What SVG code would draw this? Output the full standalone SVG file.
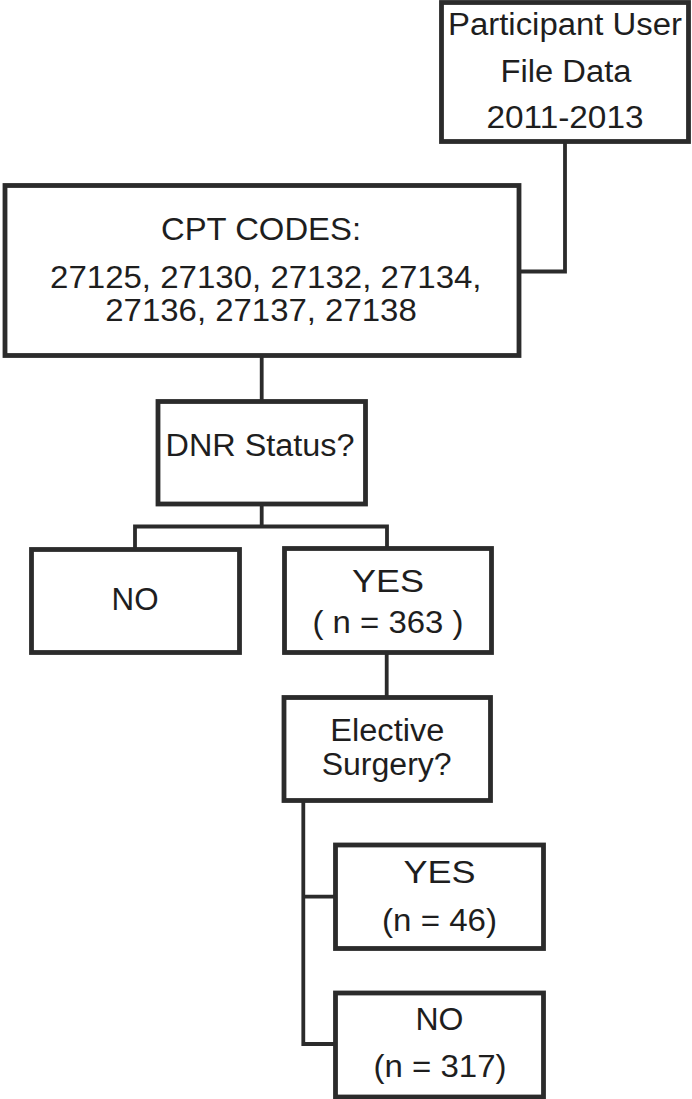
<svg xmlns="http://www.w3.org/2000/svg" width="692" height="1099" viewBox="0 0 692 1099">
<style>
.box{fill:#fff;stroke:#2b2b2b;stroke-width:4.8}
.con{fill:none;stroke:#2b2b2b;stroke-width:3.8}
text{font-family:"Liberation Sans",Arial,sans-serif;font-size:31px;fill:#1e1e1e;text-anchor:middle}
</style>
<rect width="692" height="1099" fill="#fff"/>
<g id="connectors">
<path class="con" d="M565,143 V271.5 H519"/>
<path class="con" d="M261.7,355 V401"/>
<path class="con" d="M261.7,504 V526.5 M135,549 V526.5 H387 V548"/>
<path class="con" d="M386.7,652 V697"/>
<path class="con" d="M303.3,800 V1044 H335 M303.3,896.7 H335"/>
</g>
<g id="participant">
<rect class="box" x="441.5" y="2.5" width="247" height="139"/>
<text x="565" y="35" textLength="234" lengthAdjust="spacingAndGlyphs">Participant User</text>
<text x="566" y="81.7" textLength="131" lengthAdjust="spacingAndGlyphs">File Data</text>
<text x="565" y="128.3" textLength="157" lengthAdjust="spacingAndGlyphs">2011-2013</text>
</g>
<g id="cpt">
<rect class="box" x="5" y="185.5" width="514" height="170"/>
<text x="261" y="240" textLength="200" lengthAdjust="spacingAndGlyphs">CPT CODES:</text>
<text x="265.8" y="288.3" textLength="431.5" lengthAdjust="spacingAndGlyphs">27125, 27130, 27132, 27134,</text>
<text x="261" y="320.7" textLength="311.5" lengthAdjust="spacingAndGlyphs">27136, 27137, 27138</text>
</g>
<g id="dnr">
<rect class="box" x="158" y="401.5" width="207.5" height="102.5"/>
<text x="260" y="456" textLength="189" lengthAdjust="spacingAndGlyphs">DNR Status?</text>
</g>
<g id="no1">
<rect class="box" x="31.5" y="549.5" width="208" height="103"/>
<text x="135" y="610" textLength="47" lengthAdjust="spacingAndGlyphs">NO</text>
</g>
<g id="yes1">
<rect class="box" x="284.5" y="548.5" width="207" height="104"/>
<text x="388" y="591.7" textLength="72" lengthAdjust="spacingAndGlyphs">YES</text>
<text x="388" y="633.3" textLength="151" lengthAdjust="spacingAndGlyphs">( n = 363 )</text>
</g>
<g id="elective">
<rect class="box" x="284" y="697.5" width="206.5" height="103"/>
<text x="387.3" y="741" textLength="114" lengthAdjust="spacingAndGlyphs">Elective</text>
<text x="386.7" y="775" textLength="130" lengthAdjust="spacingAndGlyphs">Surgery?</text>
</g>
<g id="yes2">
<rect class="box" x="335.5" y="845" width="208" height="103.5"/>
<text x="439.5" y="882.7" textLength="72" lengthAdjust="spacingAndGlyphs">YES</text>
<text x="439.5" y="930.7" textLength="115" lengthAdjust="spacingAndGlyphs">(n = 46)</text>
</g>
<g id="no2">
<rect class="box" x="335.5" y="993" width="208" height="104"/>
<text x="439.5" y="1030" textLength="48" lengthAdjust="spacingAndGlyphs">NO</text>
<text x="440" y="1076.7" textLength="133" lengthAdjust="spacingAndGlyphs">(n = 317)</text>
</g>
</svg>
